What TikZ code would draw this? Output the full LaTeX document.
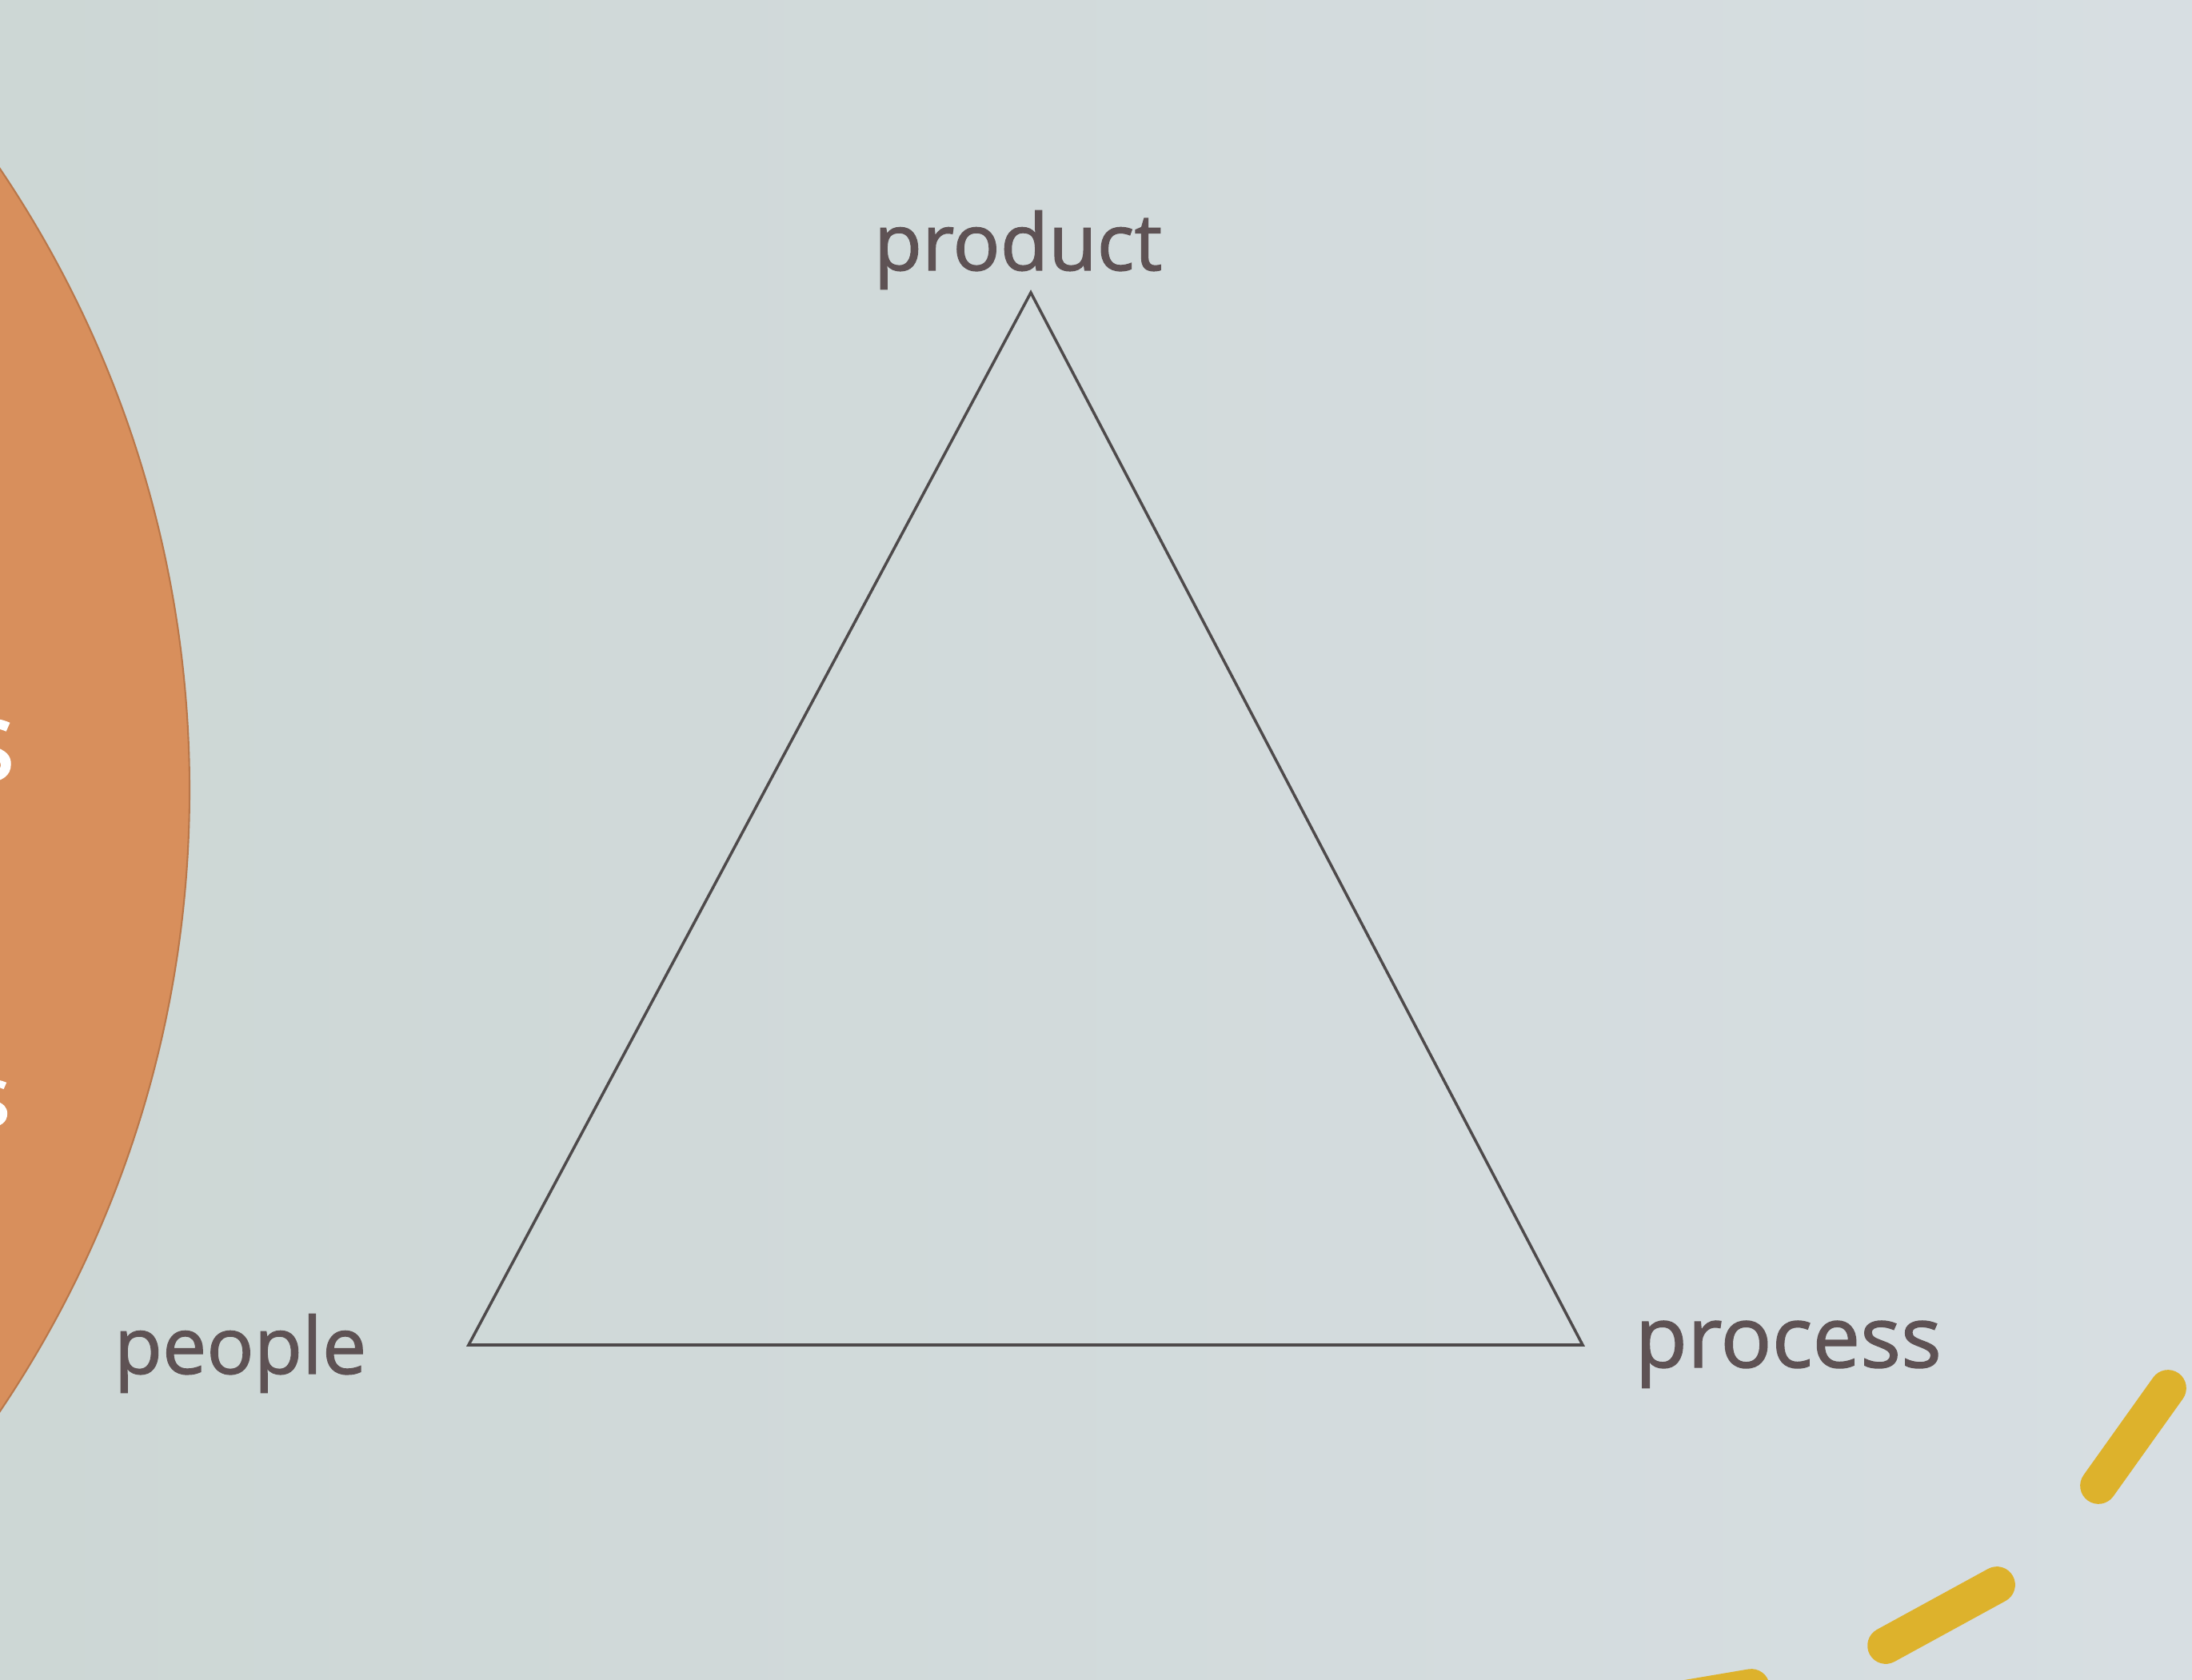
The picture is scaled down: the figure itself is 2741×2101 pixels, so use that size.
\documentclass[tikz,border=0pt]{standalone}
\usepackage{fontspec}
\setmainfont{Open Sans}
\newfontfamily\lblfont[FakeBold=1.3]{Open Sans}
\definecolor{bgL}{HTML}{CDD7D5}
\definecolor{bgR}{HTML}{D7DEE2}
\definecolor{orangefill}{HTML}{D88F5C}
\definecolor{orangerim}{HTML}{B9774A}
\definecolor{yellowdash}{HTML}{DDB22C}
\definecolor{labelcol}{HTML}{5E5254}
\definecolor{linecol}{HTML}{4E4A4B}
\tikzset{
  lbl/.style={text=labelcol, inner sep=0pt, font=\lblfont\fontsize{28}{33}\selectfont},
  edge/.style={draw=linecol, line width=1pt, line join=miter},
  ydash/.style={draw=yellowdash, line width=13pt, line cap=round},
  circtext/.style={text=white, inner sep=0pt}
}
\begin{document}
\begin{tikzpicture}[x=0.01cm, y=-0.01cm]
\useasboundingbox (0,0) rectangle (2741,2101);
\begin{scope}
\clip (0,0) rectangle (2741,2101);
% background
\shade[left color=bgL, right color=bgR] (0,0) rectangle (2741,2101);
% orange circle on the left
\fill[orangefill] (-1154,988) circle[radius=1391];
\draw[orangerim, line width=0.6pt] (-1154,988) circle[radius=1391];
% partially visible white letters on the circle
\node[circtext, anchor=base east, font=\lblfont\fontsize{40}{46}\selectfont] (sA) at (20,976) {s};
\node[circtext, anchor=base east, font=\lblfont\fontsize{30}{36}\selectfont] (sB) at (14,1408) {s};
% yellow dashes
\coordinate (d1a) at (2624,1858);
\coordinate (d1b) at (2711,1736);
\coordinate (d2a) at (2358,2058);
\coordinate (d2b) at (2497,1982);
\coordinate (d3a) at (2060,2132);
\coordinate (d3b) at (2190,2110);
\draw[ydash] (d1a) -- (d1b);
\draw[ydash] (d2a) -- (d2b);
\draw[ydash] (d3a) -- (d3b);
\end{scope}
% triangle
\coordinate (top) at (1289,366);
\coordinate (bl) at (586,1682);
\coordinate (br) at (1979,1682);
\draw[edge] (top) -- (br) -- (bl) -- cycle;
% labels
\node[lbl, anchor=base] (product) at (1273,338) {product};
\node[lbl, anchor=base west] (people) at (142,1718) {people};
\node[lbl, anchor=base west, font=\lblfont\fontsize{30.3}{36}\selectfont] (process) at (2044,1710) {process};
\end{tikzpicture}
\end{document}
